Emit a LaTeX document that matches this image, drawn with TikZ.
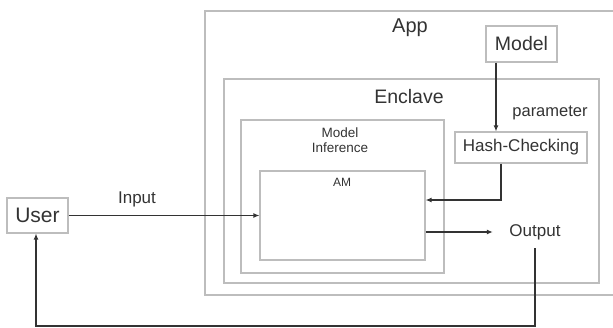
\documentclass[tikz,border=0pt]{standalone}
\usepackage{fontspec}
\setmainfont{Liberation Sans}
\usetikzlibrary{arrows.meta}
\definecolor{boxgray}{HTML}{BDBDBD}
\definecolor{ink}{HTML}{333333}
\begin{document}
\begin{tikzpicture}[x=1pt,y=1pt,
  frame/.style={draw=boxgray,line width=1.1pt,fill=none},
  lbl/.style={text=ink,inner sep=0pt},
  arr/.style={draw=ink,line width=1.2pt,-{Latex[length=6pt,width=5pt]}},
  ln/.style={draw=ink,line width=1.2pt}]
\useasboundingbox (0,0) rectangle (613,-327);
% containers
\draw[frame] (205,-11) rectangle (622,-295);
\draw[frame] (224,-79) rectangle (599,-283);
\draw[frame] (241,-120) rectangle (444,-273);
\node[frame,minimum width=165pt,minimum height=89pt,inner sep=0pt] (AM) at (342.5,-215.5) {};
% titles
\node[lbl,font=\fontsize{20}{22}\selectfont] (app) at (410,-28) {App};
\node[lbl,font=\fontsize{19.5}{22}\selectfont] (encl) at (409,-97) {Enclave};
\node[lbl,font=\fontsize{13.5}{16}\selectfont,align=center] (mi) at (340,-140) {Model\\[-1pt]Inference};
\node[lbl,font=\fontsize{12}{14}\selectfont] (amt) at (342,-182) {AM};
% nodes
\node[frame,minimum width=71pt,minimum height=36pt,inner sep=0pt,text=ink,font=\fontsize{19.5}{22}\selectfont] (Model) at (521.5,-44) {Model};
\node[frame,minimum width=132pt,minimum height=31pt,inner sep=0pt,text=ink,font=\fontsize{17}{20}\selectfont] (Hash) at (521,-147.5) {Hash-Checking};
\node[lbl,font=\fontsize{16.5}{20}\selectfont] (param) at (550,-113) {parameter};
\node[frame,minimum width=61pt,minimum height=35pt,inner sep=0pt,text=ink,font=\fontsize{21}{24}\selectfont] (User) at (37.5,-215.5) {User};
\node[lbl,font=\fontsize{17}{20}\selectfont] (inp) at (137,-199) {Input};
\node[text=ink,minimum width=84pt,minimum height=32pt,inner sep=0pt,font=\fontsize{17}{20}\selectfont] (Output) at (535,-232) {Output};
\coordinate (bot) at (0,-326);
% connectors
\draw[arr] ([xshift=-25.5pt]Model.south) -- ([xshift=-25pt]Hash.north);
\draw[arr] ([xshift=-20pt]Hash.south) |- ([yshift=15.5pt]AM.east);
\draw[arr] (User.east) -- (AM.west);
\draw[arr] (AM.east |- Output.west) -- (Output.west);
\draw[arr] (Output.south) -- (Output.south |- bot) -| ([xshift=-1.5pt]User.south);
\end{tikzpicture}
\end{document}
